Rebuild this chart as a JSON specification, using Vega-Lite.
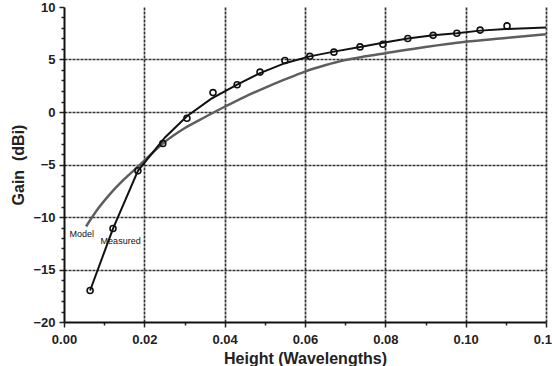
{
  "$schema": "https://vega.github.io/schema/vega-lite/v6.json",
  "width": 482,
  "height": 315,
  "autosize": {"type": "none"},
  "padding": {"left": 64, "top": 7, "right": 6, "bottom": 44},
  "background": "white",
  "config": {
    "view": {"stroke": null},
    "font": "Liberation Sans",
    "axis": {
      "domainColor": "#111",
      "domainWidth": 2,
      "tickColor": "#222",
      "tickWidth": 1.5,
      "gridColor": "#333",
      "gridWidth": 1.7,
      "gridDash": [3, 1],
      "labelFont": "Liberation Sans",
      "labelFontWeight": "bold",
      "labelFontSize": 13,
      "labelColor": "#222",
      "titleFont": "Liberation Sans",
      "titleFontWeight": "bold",
      "titleFontSize": 16,
      "titleColor": "#222",
      "labelOverlap": false,
      "labelFlush": false
    }
  },
  "datasets": {
    "model": [
      {"h": 0.0055, "gain": -10.9},
      {"h": 0.0085, "gain": -9.2},
      {"h": 0.0115, "gain": -7.8},
      {"h": 0.015, "gain": -6.4},
      {"h": 0.019, "gain": -5.0},
      {"h": 0.0246, "gain": -3.0},
      {"h": 0.03, "gain": -1.55},
      {"h": 0.035, "gain": -0.5},
      {"h": 0.04, "gain": 0.5},
      {"h": 0.045, "gain": 1.45},
      {"h": 0.05, "gain": 2.3},
      {"h": 0.055, "gain": 3.1},
      {"h": 0.06, "gain": 3.85},
      {"h": 0.065, "gain": 4.45},
      {"h": 0.07, "gain": 4.95},
      {"h": 0.075, "gain": 5.3},
      {"h": 0.08, "gain": 5.6},
      {"h": 0.09, "gain": 6.2},
      {"h": 0.1, "gain": 6.7},
      {"h": 0.11, "gain": 7.05},
      {"h": 0.12, "gain": 7.4}
    ],
    "measuredLine": [
      {"h": 0.0065, "gain": -17.0},
      {"h": 0.0122, "gain": -11.1},
      {"h": 0.0184, "gain": -5.6},
      {"h": 0.0252, "gain": -2.4},
      {"h": 0.0306, "gain": -0.4},
      {"h": 0.0366, "gain": 1.25},
      {"h": 0.0431, "gain": 2.6},
      {"h": 0.0488, "gain": 3.7},
      {"h": 0.055, "gain": 4.65},
      {"h": 0.0612, "gain": 5.3},
      {"h": 0.0672, "gain": 5.75},
      {"h": 0.0737, "gain": 6.2},
      {"h": 0.0794, "gain": 6.6},
      {"h": 0.0856, "gain": 7.0},
      {"h": 0.0919, "gain": 7.3},
      {"h": 0.0978, "gain": 7.5},
      {"h": 0.1036, "gain": 7.75},
      {"h": 0.11, "gain": 7.9},
      {"h": 0.12, "gain": 8.05}
    ],
    "measuredPoints": [
      {"h": 0.0065, "gain": -17.0},
      {"h": 0.0122, "gain": -11.1},
      {"h": 0.0184, "gain": -5.6},
      {"h": 0.0246, "gain": -3.0},
      {"h": 0.0306, "gain": -0.6},
      {"h": 0.0371, "gain": 1.85},
      {"h": 0.0431, "gain": 2.6},
      {"h": 0.0488, "gain": 3.8},
      {"h": 0.055, "gain": 4.9},
      {"h": 0.0612, "gain": 5.3},
      {"h": 0.0672, "gain": 5.7},
      {"h": 0.0737, "gain": 6.2},
      {"h": 0.0794, "gain": 6.45},
      {"h": 0.0856, "gain": 7.0},
      {"h": 0.0919, "gain": 7.3},
      {"h": 0.0978, "gain": 7.5},
      {"h": 0.1036, "gain": 7.8},
      {"h": 0.1103, "gain": 8.2}
    ],
    "labels": [
      {"h": 0.0044, "gain": -11.6, "text": "Model"},
      {"h": 0.0141, "gain": -12.3, "text": "Measured"}
    ]
  },
  "encoding": {
    "x": {
      "field": "h",
      "type": "quantitative",
      "scale": {"domain": [0, 0.12], "nice": false, "zero": false},
      "axis": {
        "title": "Height (Wavelengths)",
        "values": [0, 0.01, 0.02, 0.03, 0.04, 0.05, 0.06, 0.07, 0.08, 0.09, 0.1, 0.11, 0.12],
        "labelExpr": "round(datum.value * 100) % 2 === 0 ? format(datum.value, '.2f') : ''",
        "tickSize": {"condition": {"test": "round(datum.value * 100) % 2 === 0", "value": 5}, "value": 3},
        "gridOpacity": {"condition": {"test": "round(datum.value * 100) % 2 === 0 && datum.value > 0.001", "value": 1}, "value": 0},
        "labelPadding": 6,
        "titlePadding": 4
      }
    },
    "y": {
      "field": "gain",
      "type": "quantitative",
      "scale": {"domain": [-20, 10], "nice": false, "zero": false},
      "axis": {
        "title": "Gain\u00a0\u00a0(dBi)",
        "values": [-20, -19, -18, -17, -16, -15, -14, -13, -12, -11, -10, -9, -8, -7, -6, -5, -4, -3, -2, -1, 0, 1, 2, 3, 4, 5, 6, 7, 8, 9, 10],
        "format": "d",
        "labelExpr": "datum.value % 5 === 0 ? datum.label : ''",
        "tickSize": {"condition": {"test": "datum.value % 5 === 0", "value": 5}, "value": 3},
        "gridOpacity": {"condition": {"test": "datum.value % 5 === 0 && datum.value > -20 && datum.value < 10", "value": 1}, "value": 0},
        "labelPadding": 4,
        "titlePadding": 6
      }
    }
  },
  "layer": [
    {
      "data": {"name": "model"},
      "mark": {"type": "line", "color": "#5e5e5e", "strokeWidth": 2.5, "interpolate": "monotone"}
    },
    {
      "data": {"name": "measuredLine"},
      "mark": {"type": "line", "color": "#111", "strokeWidth": 2, "interpolate": "linear"}
    },
    {
      "data": {"name": "measuredPoints"},
      "mark": {"type": "point", "shape": "circle", "filled": false, "color": "#111", "strokeWidth": 1.6, "size": 36, "opacity": 1}
    },
    {
      "data": {"name": "labels"},
      "mark": {"type": "text", "font": "Liberation Sans", "fontSize": 9, "color": "#111", "align": "center", "baseline": "middle"},
      "encoding": {"text": {"field": "text", "type": "nominal"}}
    }
  ]
}
